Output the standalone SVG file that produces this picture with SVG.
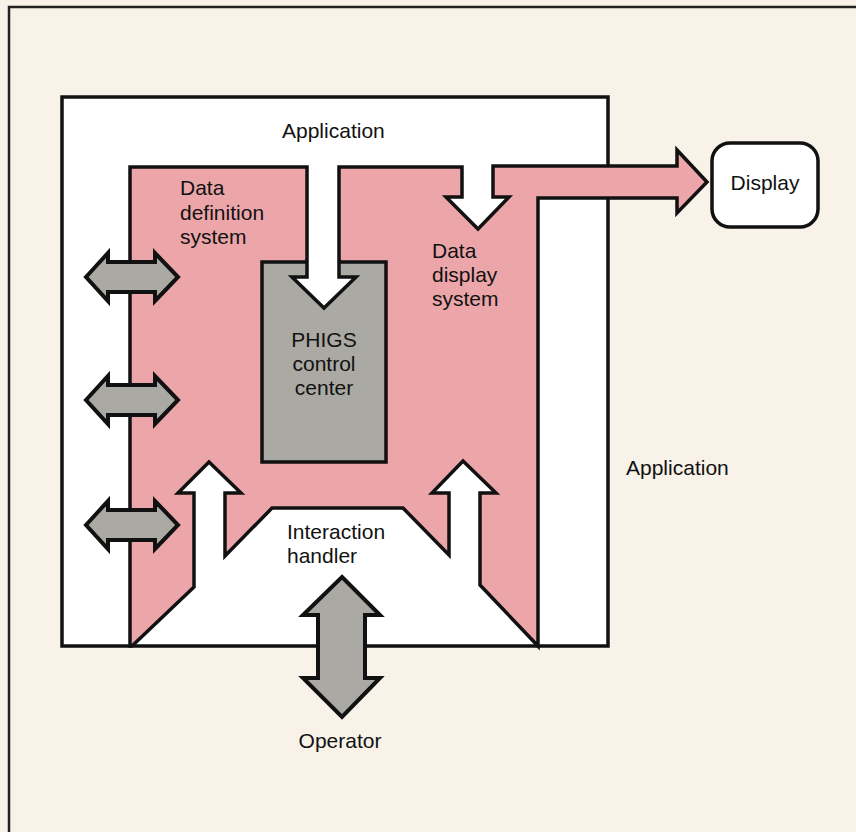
<svg xmlns="http://www.w3.org/2000/svg" width="856" height="832" viewBox="0 0 856 832">
<style>
.t{font-family:"Liberation Sans",Arial,sans-serif;font-size:21px;fill:#111}
.ln{stroke:#111;stroke-width:3.5;stroke-linejoin:miter}
.ar{stroke:#111;stroke-width:4;stroke-linejoin:miter}
.gray{fill:#aaa9a3}
.pink{fill:#eca6aa}
</style>
<rect x="0" y="0" width="856" height="832" fill="#f8f2e9"/>
<path d="M9,832 L9,7 L856,7" fill="none" stroke="#222" stroke-width="2.5"/>
<g id="application">
<rect x="62" y="97" width="546" height="549" fill="#ffffff" class="ln"/>
<text class="t" x="282" y="138">Application</text>
<text class="t" x="626" y="475">Application</text>
</g>
<g id="data-systems">
<path class="pink ln" d="M130,646 L130,167 L307,167 L307,277 L292,277 L324,308 L356,277 L339,277 L339,167 L462,167 L462,197 L446,197 L478,229 L509,197 L493,197 L493,166 L677,166 L677,150 L707,182 L677,213 L677,198 L538,198 L538,646 L480,585 L480,493 L496,493 L463,461 L432,493 L449,493 L449,555 L403,508 L272,508 L225,556 L225,493 L241,493 L209,462 L178,493 L194,493 L194,587 L132,646 Z"/>
<text class="t" x="180" y="195">Data</text>
<text class="t" x="180" y="220">definition</text>
<text class="t" x="180" y="244">system</text>
<text class="t" x="432" y="258">Data</text>
<text class="t" x="432" y="282">display</text>
<text class="t" x="432" y="306">system</text>
</g>
<g id="phigs-control-center">
<rect class="gray ln" x="262" y="262" width="124" height="200"/>
<text class="t" x="324" y="347" text-anchor="middle">PHIGS</text>
<text class="t" x="324" y="371" text-anchor="middle">control</text>
<text class="t" x="324" y="395" text-anchor="middle">center</text>
</g>
<g id="interaction-handler">
<text class="t" x="287" y="539">Interaction</text>
<text class="t" x="287" y="563">handler</text>
</g>
<g id="display">
<rect x="712" y="143" width="106" height="84" rx="18" fill="#ffffff" class="ln"/>
<text class="t" x="765" y="190" text-anchor="middle">Display</text>
</g>
<g id="operator">
<text class="t" x="340" y="748" text-anchor="middle">Operator</text>
</g>
<g id="connectors">
<path class="ln" fill="#ffffff" d="M307,259 L307,277 L292,277 L324,308 L356,277 L339,277 L339,259"/>
<path class="gray ar" d="M86,277 L108,253 L108,262 L155,262 L155,253 L178,277 L155,301 L155,292 L108,292 L108,301 Z"/>
<path class="gray ar" d="M86,400 L108,376 L108,385 L155,385 L155,376 L178,400 L155,424 L155,415 L108,415 L108,424 Z"/>
<path class="gray ar" d="M86,525 L108,501 L108,510 L155,510 L155,501 L178,525 L155,549 L155,540 L108,540 L108,549 Z"/>
<path class="gray ar" d="M342,577 L380,615 L365,615 L365,678 L380,678 L342,717 L303,678 L318,678 L318,615 L303,615 Z"/>
</g>
</svg>
